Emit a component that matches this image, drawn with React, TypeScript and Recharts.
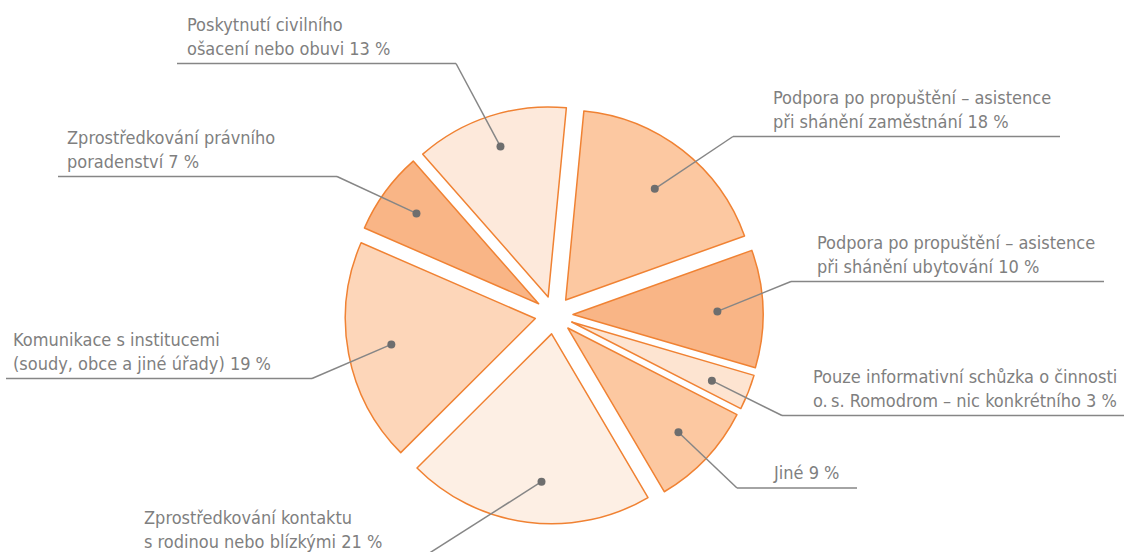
import { Pie, PieChart, Sector } from "recharts";

// slices clockwise from just right of 12 o'clock
const categories = [
  "Podpora po propuštění – asistence při shánění zaměstnání",
  "Podpora po propuštění – asistence při shánění ubytování",
  "Pouze informativní schůzka o činnosti o.s. Romodrom – nic konkrétního",
  "Jiné",
  "Zprostředkování kontaktu s rodinou nebo blízkými",
  "Komunikace s institucemi (soudy, obce a jiné úřady)",
  "Zprostředkování právního poradenství",
  "Poskytnutí civilního ošacení nebo obuvi",
];

const shares = [18, 10, 3, 9, 21, 19, 7, 13];

// how each category name is broken over the label lines
const labelTexts = [
  ["Podpora po propuštění – asistence", "při shánění zaměstnání"],
  ["Podpora po propuštění – asistence", "při shánění ubytování"],
  ["Pouze informativní schůzka o činnosti", "o.\u2009s. Romodrom – nic konkrétního"],
  ["Jiné"],
  ["Zprostředkování kontaktu", "s rodinou nebo blízkými"],
  ["Komunikace s institucemi", "(soudy, obce a jiné úřady)"],
  ["Zprostředkování právního", "poradenství"],
  ["Poskytnutí civilního", "ošacení nebo obuvi"],
];

const sliceFills = [
  "#fcc8a1",
  "#f9b586",
  "#fde4d1",
  "#fcc8a1",
  "#fdefe4",
  "#fdd6b9",
  "#f9b586",
  "#fde9db",
];

// text start, first baseline, underline span; elbow is the end facing the pie.
// dotR = share of the radius where the dot sits, nudge = degrees off the mid angle
const labelLayout = [
  { x: 773, y: 104, from: 733, to: 1060, side: "right", dotR: 0.75, nudge: -0.8 },
  { x: 817, y: 249, from: 791, to: 1104, side: "right", dotR: 0.76, nudge: -0.5 },
  { x: 813, y: 383, from: 782, to: 1130, side: "right", dotR: 0.8, nudge: -1 },
  { x: 774, y: 479, from: 737, to: 857, side: "right", dotR: 0.8, nudge: 0 },
  { x: 144, y: 524, from: 135, to: 424, side: "left", dotR: 0.78, nudge: 3.4 },
  { x: 13, y: 346, from: 6, to: 312, side: "left", dotR: 0.77, nudge: -0.5 },
  { x: 67, y: 144, from: 58, to: 337, side: "left", dotR: 0.8, nudge: -0.4 },
  { x: 187, y: 31, from: 177, to: 456, side: "left", dotR: 0.83, nudge: -0.3 },
];

const data = categories.map((name, i) => ({ name, value: shares[i] }));

const RAD = Math.PI / 180;
const EXPLODE = 19;
const LINE_GAP = 23.5;
const textColor = "#7f7f7f";
const fontFamily = "'Liberation Sans Narrow', 'DejaVu Sans Condensed', 'Roboto', sans-serif";

type SliceProps = {
  cx: number;
  cy: number;
  midAngle: number;
  outerRadius: number;
  startAngle: number;
  endAngle: number;
  index: number;
};

function explodedCenter(p: SliceProps) {
  return {
    x: p.cx + EXPLODE * Math.cos(-p.midAngle * RAD),
    y: p.cy + EXPLODE * Math.sin(-p.midAngle * RAD),
  };
}

function renderSlice(props: SliceProps) {
  const c = explodedCenter(props);
  return (
    <Sector
      cx={c.x}
      cy={c.y}
      innerRadius={0}
      outerRadius={props.outerRadius}
      startAngle={props.startAngle}
      endAngle={props.endAngle}
      fill={sliceFills[props.index]}
      stroke="#f08233"
      strokeWidth={1.5}
      strokeLinejoin="round"
    />
  );
}

function renderCallout(props: SliceProps) {
  const { index, midAngle, outerRadius } = props;
  const layout = labelLayout[index];
  const c = explodedCenter(props);
  const r = outerRadius * layout.dotR;
  const angle = midAngle + layout.nudge;
  const dot = {
    x: c.x + r * Math.cos(-angle * RAD),
    y: c.y + r * Math.sin(-angle * RAD),
  };
  const lines = [...labelTexts[index]];
  lines[lines.length - 1] += ` ${shares[index]} %`;
  const underlineY = layout.y + (lines.length - 1) * LINE_GAP + 9;
  const elbowX = layout.side === "right" ? layout.from : layout.to;

  return (
    <g>
      <line
        x1={layout.from}
        x2={layout.to}
        y1={underlineY}
        y2={underlineY}
        stroke="#868686"
        strokeWidth={1.5}
      />
      <line
        x1={elbowX}
        y1={underlineY}
        x2={dot.x}
        y2={dot.y}
        stroke="#868686"
        strokeWidth={1.5}
      />
      <circle cx={dot.x} cy={dot.y} r={4} fill="#6e6e6e" />
      <text x={layout.x} y={layout.y} fill={textColor} fontSize={18} fontFamily={fontFamily}>
        {lines.map((line, i) => (
          <tspan key={i} x={layout.x} dy={i === 0 ? 0 : LINE_GAP}>
            {line}
          </tspan>
        ))}
      </text>
    </g>
  );
}

export default function App() {
  return (
    <div style={{ position: "absolute", left: 0, top: 0, background: "#fff" }}>
      <PieChart width={1124} height={552} margin={{ top: 0, right: 0, bottom: 0, left: 0 }}>
        <Pie
          data={data}
          dataKey="value"
          nameKey="name"
          cx={554}
          cy={315}
          outerRadius={190}
          startAngle={84.5}
          endAngle={-275.5}
          fill="transparent"
          stroke="none"
          label={renderSlice}
          labelLine={false}
          isAnimationActive={false}
        />
        <Pie
          data={data}
          dataKey="value"
          nameKey="name"
          cx={554}
          cy={315}
          outerRadius={190}
          startAngle={84.5}
          endAngle={-275.5}
          fill="transparent"
          stroke="none"
          label={renderCallout}
          labelLine={false}
          isAnimationActive={false}
        />
      </PieChart>
    </div>
  );
}
